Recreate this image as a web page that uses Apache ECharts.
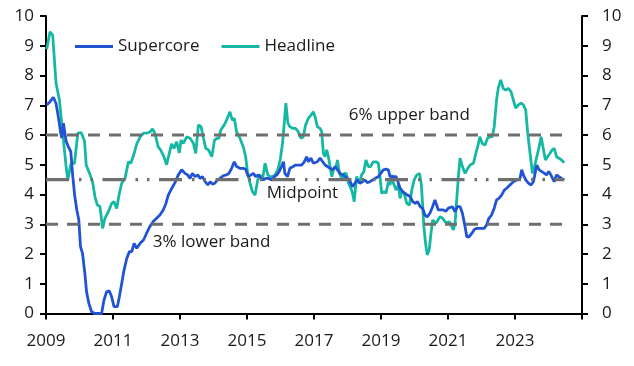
<!DOCTYPE html>
<html><head><meta charset="utf-8">
<script src="https://cdn.jsdelivr.net/npm/echarts@6/dist/echarts.min.js"></script>
<style>html,body{margin:0;padding:0;background:#fff}#c{width:634px;height:366px}</style>
</head><body><div id="c"></div>
<script>
// ---- data ----
const supercoreYears = [2009.02,2009.12,2009.22,2009.30,2009.37,2009.44,2009.47,2009.52,2009.60,2009.67,2009.74,2009.80,2009.86,2009.92,2009.98,2010.03,2010.09,2010.16,2010.21,2010.28,2010.36,2010.46,2010.56,2010.66,2010.73,2010.81,2010.89,2010.96,2011.03,2011.13,2011.19,2011.26,2011.33,2011.41,2011.49,2011.56,2011.63,2011.71,2011.81,2011.91,2012.00,2012.10,2012.20,2012.30,2012.40,2012.50,2012.58,2012.65,2012.75,2012.85,2012.95,2013.05,2013.15,2013.23,2013.30,2013.37,2013.45,2013.53,2013.60,2013.67,2013.75,2013.83,2013.90,2013.97,2014.04,2014.12,2014.19,2014.29,2014.39,2014.46,2014.54,2014.62,2014.69,2014.79,2014.89,2014.96,2015.04,2015.12,2015.19,2015.26,2015.34,2015.42,2015.49,2015.56,2015.64,2015.74,2015.82,2015.89,2015.96,2016.03,2016.09,2016.13,2016.21,2016.28,2016.38,2016.45,2016.55,2016.63,2016.71,2016.78,2016.83,2016.91,2016.98,2017.03,2017.10,2017.18,2017.26,2017.33,2017.40,2017.48,2017.56,2017.63,2017.70,2017.78,2017.86,2017.93,2018.00,2018.08,2018.15,2018.22,2018.29,2018.37,2018.45,2018.52,2018.59,2018.67,2018.75,2018.82,2018.92,2018.99,2019.07,2019.15,2019.22,2019.27,2019.32,2019.39,2019.45,2019.52,2019.57,2019.65,2019.72,2019.79,2019.87,2019.95,2020.02,2020.09,2020.17,2020.24,2020.31,2020.38,2020.46,2020.54,2020.61,2020.66,2020.71,2020.78,2020.86,2020.94,2021.01,2021.06,2021.13,2021.21,2021.28,2021.36,2021.43,2021.51,2021.56,2021.63,2021.71,2021.79,2021.86,2021.93,2022.00,2022.08,2022.15,2022.22,2022.30,2022.38,2022.45,2022.52,2022.60,2022.68,2022.75,2022.85,2022.95,2023.05,2023.15,2023.20,2023.25,2023.32,2023.40,2023.48,2023.55,2023.60,2023.65,2023.72,2023.80,2023.88,2023.94,2024.01,2024.07,2024.11,2024.17,2024.24,2024.31,2024.39,2024.47];
const supercoreValues = [7.01,7.12,7.27,7.06,6.6,6.06,5.9,6.4,5.8,5.6,5.44,4.6,3.93,3.48,3.14,2.25,2.02,1.35,0.73,0.34,0.06,0.0,0.0,0.0,0.45,0.73,0.76,0.56,0.23,0.23,0.56,1.01,1.46,1.85,2.08,2.08,2.36,2.19,2.36,2.47,2.69,2.92,3.09,3.2,3.31,3.48,3.7,3.98,4.2,4.4,4.66,4.83,4.71,4.66,4.54,4.71,4.6,4.66,4.54,4.6,4.43,4.32,4.43,4.35,4.38,4.49,4.54,4.63,4.66,4.71,4.88,5.1,4.94,4.88,4.88,4.85,4.6,4.66,4.71,4.6,4.66,4.54,4.49,4.54,4.54,4.49,4.6,4.66,4.77,4.94,5.1,4.71,4.6,4.88,4.94,4.99,4.99,4.99,5.1,5.27,5.1,5.22,5.05,4.99,5.1,5.22,5.1,4.99,4.94,4.88,4.83,4.94,4.83,4.71,4.66,4.6,4.54,4.43,4.26,4.38,4.49,4.38,4.43,4.49,4.4,4.43,4.49,4.54,4.6,4.71,4.83,4.85,4.83,4.6,4.54,4.6,4.6,4.38,4.21,4.1,4.04,3.98,3.93,3.76,3.7,3.76,3.59,3.54,3.31,3.25,3.37,3.59,3.82,3.76,3.48,3.48,3.48,3.44,3.54,3.59,3.59,3.42,3.59,3.59,3.37,2.92,2.58,2.58,2.69,2.83,2.86,2.86,2.86,2.86,2.97,3.2,3.31,3.54,3.82,3.87,3.98,4.15,4.21,4.32,4.43,4.49,4.54,4.83,4.66,4.49,4.38,4.32,4.43,4.71,4.99,4.83,4.77,4.71,4.66,4.77,4.66,4.71,4.43,4.66,4.6,4.54,4.49];

const headlineYears = [2009.02,2009.07,2009.12,2009.20,2009.30,2009.40,2009.50,2009.60,2009.65,2009.75,2009.85,2009.95,2010.05,2010.15,2010.20,2010.30,2010.39,2010.46,2010.53,2010.61,2010.69,2010.76,2010.86,2010.96,2011.03,2011.11,2011.19,2011.26,2011.36,2011.46,2011.53,2011.61,2011.71,2011.81,2011.91,2012.00,2012.10,2012.18,2012.25,2012.35,2012.42,2012.52,2012.60,2012.68,2012.75,2012.82,2012.90,2012.98,2013.03,2013.10,2013.20,2013.30,2013.40,2013.47,2013.55,2013.63,2013.70,2013.77,2013.85,2013.95,2014.03,2014.10,2014.16,2014.22,2014.32,2014.39,2014.49,2014.56,2014.62,2014.69,2014.79,2014.89,2014.96,2015.02,2015.09,2015.16,2015.24,2015.32,2015.39,2015.46,2015.54,2015.62,2015.69,2015.76,2015.84,2015.92,2015.99,2016.06,2016.12,2016.16,2016.22,2016.28,2016.38,2016.45,2016.53,2016.61,2016.68,2016.75,2016.83,2016.91,2016.98,2017.03,2017.10,2017.18,2017.23,2017.28,2017.33,2017.38,2017.43,2017.48,2017.53,2017.58,2017.66,2017.70,2017.76,2017.83,2017.90,2017.96,2018.03,2018.10,2018.15,2018.20,2018.27,2018.35,2018.42,2018.49,2018.55,2018.62,2018.69,2018.77,2018.85,2018.92,2018.97,2019.02,2019.09,2019.15,2019.22,2019.27,2019.32,2019.37,2019.45,2019.52,2019.57,2019.62,2019.69,2019.77,2019.85,2019.92,2019.99,2020.07,2020.15,2020.20,2020.24,2020.28,2020.33,2020.38,2020.44,2020.48,2020.54,2020.58,2020.64,2020.69,2020.76,2020.84,2020.91,2020.98,2021.04,2021.09,2021.16,2021.21,2021.26,2021.31,2021.36,2021.43,2021.51,2021.59,2021.66,2021.76,2021.83,2021.91,2021.95,2022.02,2022.10,2022.18,2022.25,2022.32,2022.38,2022.45,2022.50,2022.57,2022.65,2022.72,2022.80,2022.88,2022.95,2023.02,2023.10,2023.18,2023.25,2023.32,2023.38,2023.45,2023.52,2023.58,2023.65,2023.72,2023.78,2023.85,2023.91,2023.97,2024.04,2024.11,2024.17,2024.24,2024.31,2024.39,2024.47];
const headlineValues = [8.88,8.91,9.47,9.36,7.74,7.18,6.06,4.94,4.5,5.05,5.05,6.06,6.08,5.8,4.99,4.71,4.43,3.93,3.65,3.6,2.86,3.2,3.42,3.7,3.76,3.53,4.04,4.38,4.55,5.1,5.05,5.3,5.7,5.94,6.06,6.06,6.1,6.2,6.06,5.6,5.5,5.27,5.0,5.38,5.7,5.55,5.77,5.4,5.83,5.72,5.94,5.89,5.72,5.38,6.34,6.28,5.89,5.55,5.5,5.27,5.83,5.89,5.89,6.17,6.34,6.5,6.78,6.5,6.56,6.11,5.89,5.6,5.27,4.71,4.38,4.1,3.98,4.49,4.66,4.49,5.05,4.66,4.6,4.6,4.66,4.83,5.16,5.72,6.5,7.07,6.4,6.28,6.22,6.22,6.11,5.89,5.94,6.34,6.56,6.67,6.78,6.62,6.28,6.22,6.11,5.38,5.27,5.5,5.27,4.94,4.6,4.83,4.94,5.16,4.71,4.54,4.71,4.71,4.38,4.21,4.04,3.76,4.6,4.38,4.66,4.77,5.16,4.94,4.94,5.1,5.1,5.05,4.6,4.04,4.1,4.04,4.43,4.32,4.66,4.38,4.15,4.32,3.87,4.1,4.04,3.7,3.65,4.15,4.49,4.66,4.71,4.38,3.7,2.92,2.36,1.97,2.14,2.58,3.14,3.2,3.03,3.09,3.25,3.2,3.09,3.03,3.09,3.14,2.81,3.03,3.82,4.6,5.22,4.94,4.71,4.88,4.99,5.05,5.38,5.72,5.94,5.72,5.66,5.89,5.94,5.94,6.28,7.18,7.57,7.85,7.57,7.51,7.57,7.46,7.18,6.9,7.01,7.07,7.01,6.84,6.06,5.38,4.71,4.94,5.27,5.6,5.94,5.5,5.16,5.27,5.38,5.5,5.55,5.27,5.22,5.16,5.07];

const bandValues = [6, 4.5, 3];
const bandRange = [2009, 2024.47];
const bandNames = ['6% upper band', 'Midpoint', '3% lower band'];
const bandLabelAnchors = [[2018.04, 6.67], [2015.59, 4.05], [2012.19, 2.41]];
const xTicks = [2009, 2011, 2013, 2015, 2017, 2019, 2021, 2023, 2025];
const yMin = 0, yMax = 10, yStep = 1;

// ---- chart ----
const FONT = 'Open Sans';
const chart = echarts.init(document.getElementById('c'), null, {renderer: 'canvas'});
const zip = (xs, ys) => xs.map((x, i) => [x, ys[i]]);

const axisY = (pos) => ({
  type: 'value', position: pos, min: yMin, max: yMax, interval: yStep,
  axisLine: {show: true, lineStyle: {color: '#000', width: 2}},
  axisTick: {show: true, length: 6, lineStyle: {color: '#000', width: 2}},
  axisLabel: {color: '#1a1a1a', fontSize: 17, fontFamily: FONT, margin: pos === 'left' ? 12 : 20},
  splitLine: {show: false}
});

const bandStyles = [
  {type: [12, 9], width: 3.2},
  {type: [23, 10, 2.5, 9, 2.5, 9.5], width: 3.2},
  {type: [12, 9], width: 3.2}
];

const bandSeries = bandValues.map((v, i) => ({
  type: 'line', name: 'band' + i, silent: true, symbol: 'none', z: 5,
  data: [[bandRange[0], v], [bandRange[1], v]],
  lineStyle: Object.assign({color: '#6f6f6f', cap: 'butt'}, bandStyles[i])
}));

chart.setOption({
  animation: false,
  backgroundColor: '#fff',
  grid: {left: 46, right: 52, top: 16, bottom: 52.5, containLabel: false},
  legend: {
    left: 70, top: 33, itemWidth: 38, itemHeight: 3, itemGap: 22,
    icon: 'rect',
    textStyle: {fontSize: 17, fontFamily: FONT, color: '#1a1a1a', padding: [0, 0, 0, 0]},
    data: ['Supercore', 'Headline']
  },
  xAxis: {
    type: 'value', min: xTicks[0], max: xTicks[xTicks.length - 1], interval: 2,
    axisLine: {show: true, onZero: false, lineStyle: {color: '#000', width: 2}},
    axisTick: {show: true, length: 6, lineStyle: {color: '#000', width: 2}},
    axisLabel: {color: '#1a1a1a', fontSize: 17, fontFamily: FONT, margin: 19,
      formatter: (v) => (v === xTicks[xTicks.length - 1] ? '' : String(v))},
    splitLine: {show: false}
  },
  yAxis: [axisY('left'), axisY('right')],
  series: [
    {
      type: 'line', name: 'Supercore', symbol: 'none', z: 3,
      data: zip(supercoreYears, supercoreValues),
      lineStyle: {color: '#2153d3', width: 2.8}, itemStyle: {color: '#2153d3'}
    },
    {
      type: 'line', name: 'Headline', symbol: 'none', z: 2,
      data: zip(headlineYears, headlineValues),
      lineStyle: {color: '#16b8a4', width: 2.8}, itemStyle: {color: '#16b8a4'}
    },
    ...bandSeries,
    {
      type: 'scatter', name: 'labels', silent: true, symbolSize: 0, z: 6,
      itemStyle: {opacity: 1},
      data: bandLabelAnchors.map((p, i) => ({value: p, name: bandNames[i]})),
      label: {show: true, position: 'right', distance: 0, formatter: (p) => p.name,
        color: '#1a1a1a', fontSize: 17, fontFamily: FONT, opacity: 1}
    }
  ]
});
</script></body></html>
